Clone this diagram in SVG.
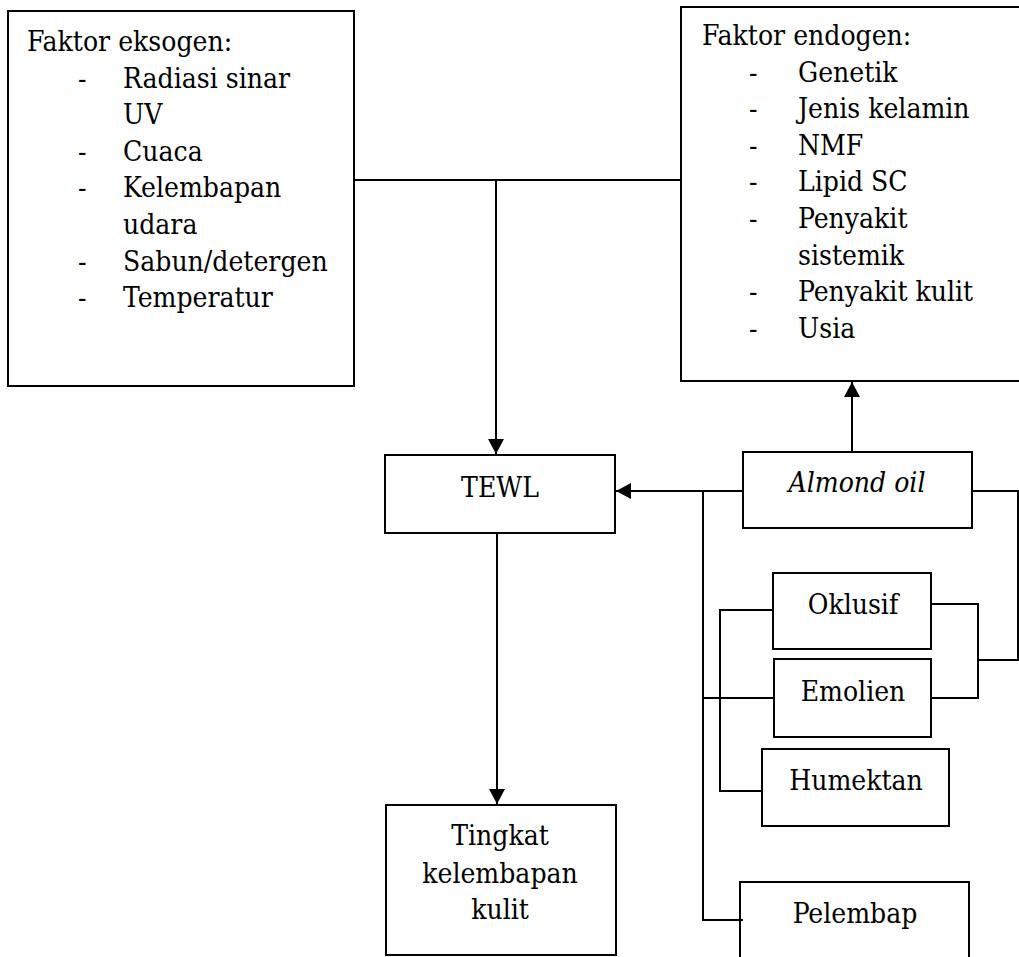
<svg xmlns="http://www.w3.org/2000/svg" width="1019" height="957" viewBox="0 0 1019 957">
<style>
  .box { fill: #fff; stroke: #000; stroke-width: 2; }
  .t { font-family: 'DejaVu Serif Condensed', 'DejaVu Serif', serif; font-stretch: condensed; font-size: 28px; fill: #000; }
  .c { text-anchor: middle; }
  .i { font-style: italic; }
  .ln { fill: none; stroke: #000; stroke-width: 2; }
</style>
<defs>
  <marker id="arr" markerUnits="userSpaceOnUse" markerWidth="16" markerHeight="16" refX="15" refY="8" orient="auto">
    <path d="M0,0 L15,8 L0,16 Z" fill="#000"/>
  </marker>
</defs>
<rect width="1019" height="957" fill="#fff"/>

<g id="connectors">
  <path class="ln" d="M354,180 H681"/>
  <path class="ln" d="M496,180 V454" marker-end="url(#arr)"/>
  <path class="ln" d="M497,533 V804" marker-end="url(#arr)"/>
  <path class="ln" d="M743,491 H616" marker-end="url(#arr)"/>
  <path class="ln" d="M852,452 V382" marker-end="url(#arr)"/>
  <path class="ln" d="M703,491 V920 H743"/>
  <path class="ln" d="M703,698 H774"/>
  <path class="ln" d="M773,610 H720 V791 H762"/>
  <path class="ln" d="M931,604 H978 V698 H931"/>
  <path class="ln" d="M978,660 H1018 V491 H972"/>
</g>

<g id="eksogen">
  <rect class="box" x="8" y="11" width="346" height="375"/>
  <text class="t" x="27" y="51">Faktor eksogen:</text>
  <text class="t" x="78" y="87.6">-</text><text class="t" x="123" y="87.6">Radiasi sinar</text>
  <text class="t" x="123" y="124">UV</text>
  <text class="t" x="78" y="161">-</text><text class="t" x="123" y="161">Cuaca</text>
  <text class="t" x="78" y="197.4">-</text><text class="t" x="123" y="197.4">Kelembapan</text>
  <text class="t" x="123" y="234">udara</text>
  <text class="t" x="78" y="270.6">-</text><text class="t" x="123" y="270.6">Sabun/detergen</text>
  <text class="t" x="78" y="307">-</text><text class="t" x="123" y="307">Temperatur</text>
</g>

<g id="endogen">
  <rect class="box" x="681" y="7" width="400" height="374"/>
  <text class="t" x="702" y="45">Faktor endogen:</text>
  <text class="t" x="749" y="81.6">-</text><text class="t" x="798" y="81.6">Genetik</text>
  <text class="t" x="749" y="118.2">-</text><text class="t" x="798" y="118.2">Jenis kelamin</text>
  <text class="t" x="749" y="154.8">-</text><text class="t" x="798" y="154.8">NMF</text>
  <text class="t" x="749" y="191.4">-</text><text class="t" x="798" y="191.4">Lipid SC</text>
  <text class="t" x="749" y="228">-</text><text class="t" x="798" y="228">Penyakit</text>
  <text class="t" x="798" y="264.6">sistemik</text>
  <text class="t" x="749" y="301.2">-</text><text class="t" x="798" y="301.2">Penyakit kulit</text>
  <text class="t" x="749" y="337.8">-</text><text class="t" x="798" y="337.8">Usia</text>
</g>

<g id="tewl">
  <rect class="box" x="385" y="455" width="230" height="78"/>
  <text class="t c" x="500" y="497">TEWL</text>
</g>

<g id="almond">
  <rect class="box" x="743" y="452" width="229" height="76"/>
  <text class="t c i" x="857" y="492">Almond oil</text>
</g>

<g id="oklusif">
  <rect class="box" x="773" y="573" width="158" height="76"/>
  <text class="t c" x="853" y="614">Oklusif</text>
</g>

<g id="emolien">
  <rect class="box" x="774" y="659" width="157" height="78"/>
  <text class="t c" x="853" y="701">Emolien</text>
</g>

<g id="humektan">
  <rect class="box" x="762" y="749" width="187" height="77"/>
  <text class="t c" x="856" y="790">Humektan</text>
</g>

<g id="pelembap">
  <path class="ln" d="M740,960 V882 H969 V960"/>
  <text class="t c" x="855" y="923">Pelembap</text>
</g>

<g id="tingkat">
  <rect class="box" x="386" y="805" width="230" height="150"/>
  <text class="t c" x="500" y="845">Tingkat</text>
  <text class="t c" x="500" y="883">kelembapan</text>
  <text class="t c" x="500" y="919">kulit</text>
</g>
</svg>
